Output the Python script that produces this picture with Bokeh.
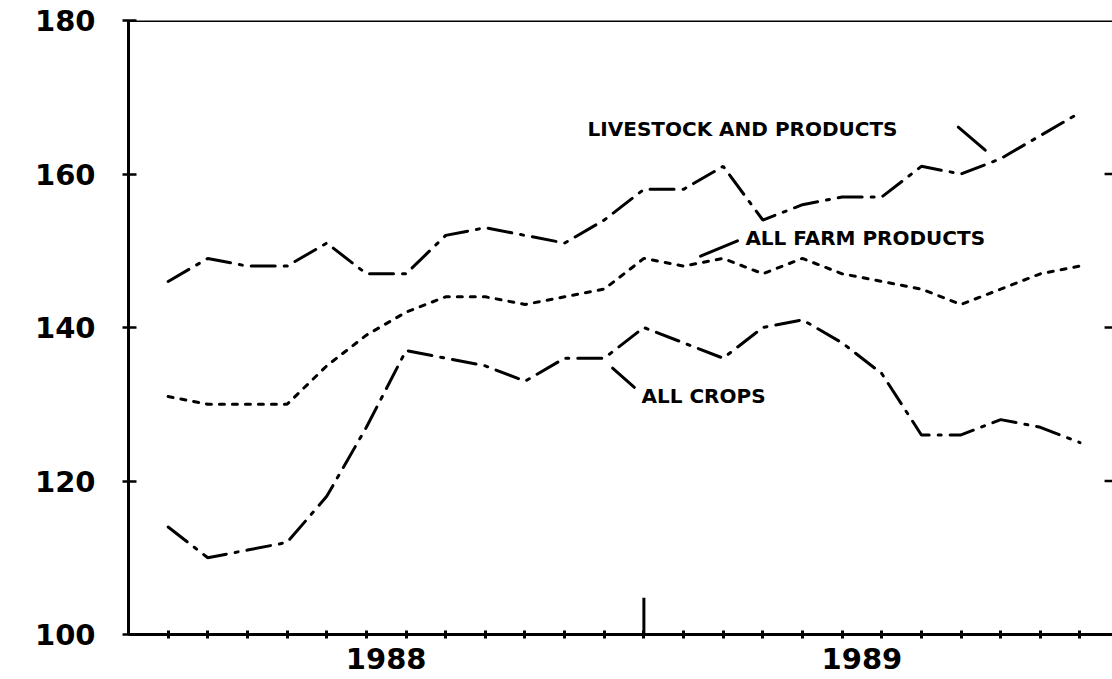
from bokeh.plotting import figure
from bokeh.models import FixedTicker, Range1d, Span
from bokeh.core.properties import value
from bokeh.embed import file_html
from bokeh.resources import INLINE

# ---- data (monthly index, Jan 1988 .. Dec 1989) ----
months = list(range(1, 25))
livestock = [146, 149, 148, 148, 151, 147, 147, 152, 153, 152, 151, 154,
             158, 158, 161, 154, 156, 157, 157, 161, 160, 162, 165, 168]
all_farm = [131, 130, 130, 130, 135, 139, 142, 144, 144, 143, 144, 145,
            149, 148, 149, 147, 149, 147, 146, 145, 143, 145, 147, 148]
all_crops = [114, 110, 111, 112, 118, 127, 137, 136, 135, 133, 136, 136,
             140, 138, 136, 140, 141, 138, 134, 126, 126, 128, 127, 125]

y_ticks = [100, 120, 140, 160, 180]
right_ticks = [120, 140, 160]
year_label_pos = [6.5, 18.5]
year_labels = ["1988", "1989"]
year_break = [13]

label_text = ["LIVESTOCK AND PRODUCTS", "ALL FARM PRODUCTS", "ALL CROPS"]
label_x = [11.58, 15.56, 12.94]
label_y = [165.9, 151.7, 131.1]
leader_x0 = [20.93, 14.43, 12.21]
leader_y0 = [166.1, 149.3, 134.7]
leader_x1 = [21.61, 15.36, 12.76]
leader_y1 = [163.1, 151.3, 132.2]

X_START, X_END = 0, 24.82
Y_START, Y_END = 100, 180
FONT = "DejaVu Sans"

p = figure(width=1112, height=679,
           x_range=Range1d(X_START, X_END), y_range=Range1d(Y_START, Y_END),
           output_backend="svg", toolbar_location=None,
           min_border_left=128, min_border_right=0,
           min_border_top=20, min_border_bottom=45)
p.xgrid.visible = False
p.ygrid.visible = False
p.outline_line_color = None
p.background_fill_color = "white"
p.border_fill_color = "white"

# left axis
ya = p.yaxis[0]
ya.ticker = FixedTicker(ticks=y_ticks, minor_ticks=[])
ya.axis_line_width = 3
ya.axis_line_color = "black"
ya.major_tick_line_width = 2.5
ya.major_tick_line_color = "black"
ya.major_tick_in = 8
ya.major_tick_out = 6
ya.major_label_text_font = FONT
ya.major_label_text_font_style = "bold"
ya.major_label_text_font_size = "29px"
ya.major_label_text_color = "black"
ya.major_label_standoff = 27

# bottom axis
xa = p.xaxis[0]
xa.ticker = FixedTicker(ticks=year_label_pos, minor_ticks=months)
xa.major_label_overrides = {k: v for k, v in zip(year_label_pos, year_labels)}
xa.axis_line_width = 3
xa.axis_line_color = "black"
xa.major_tick_line_color = None
xa.major_tick_in = 0
xa.major_tick_out = 0
xa.minor_tick_in = 4
xa.minor_tick_out = 4
xa.minor_tick_line_width = 3
xa.minor_tick_line_color = "black"
xa.major_label_text_font = FONT
xa.major_label_text_font_style = "bold"
xa.major_label_text_font_size = "29px"
xa.major_label_text_color = "black"
xa.major_label_standoff = 9

# top frame line
p.add_layout(Span(location=Y_END, dimension="width",
                  line_color="black", line_width=3))

# inward ticks at the right edge
tick_len = 0.2
p.segment(x0=[X_END - tick_len] * len(right_ticks), y0=right_ticks,
          x1=[X_END] * len(right_ticks), y1=right_ticks,
          line_width=2.5, line_color="black")

# year boundary tick
p.segment(x0=year_break, y0=[Y_START] * len(year_break),
          x1=year_break, y1=[Y_START + 4.8] * len(year_break),
          line_width=3, line_color="black")

# series
p.line(months, livestock, line_width=3, line_color="black",
       line_dash="24 9 3 9", line_cap="round")
p.line(months, all_farm, line_width=3, line_color="black",
       line_dash="5 8", line_cap="round")
p.line(months, all_crops, line_width=3, line_color="black",
       line_dash="24 9 3 9", line_cap="round")

# labels and leaders
p.text(x=label_x, y=label_y, text=label_text,
       text_font=value(FONT), text_font_style="bold",
       text_font_size="20px", text_baseline="middle", text_align="left",
       text_color="black")
p.segment(x0=leader_x0, y0=leader_y0, x1=leader_x1, y1=leader_y1,
          line_width=3, line_color="black", line_cap="round")

open("out.html", "w").write(file_html(p, INLINE))
